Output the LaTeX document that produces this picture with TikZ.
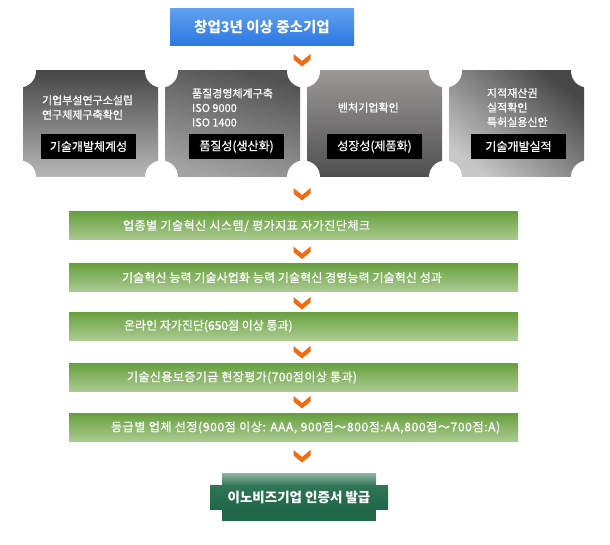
\documentclass[tikz,border=0pt]{standalone}
\usepackage{fontspec}
\setmainfont{Noto Sans CJK KR}
\newfontfamily\krsemi[FakeBold=0.7]{Noto Sans CJK KR}
\usetikzlibrary{calc}
\definecolor{barTop}{HTML}{68A040}
\definecolor{barMid}{HTML}{70A547}
\definecolor{barBot}{HTML}{ACCB92}
\definecolor{blueTop}{HTML}{62A0EE}
\definecolor{blueBot}{HTML}{2A76E2}
\definecolor{chevOrange}{HTML}{F36B0F}
\definecolor{finTopA}{HTML}{8FB4A3}
\definecolor{finTopB}{HTML}{3A7A5E}
\definecolor{finMidA}{HTML}{2F7556}
\definecolor{finMidB}{HTML}{206849}
\newcommand{\lsp}[2]{{\addfontfeature{LetterSpace=#1}#2}}
\begin{document}
\begin{tikzpicture}[x=1pt,y=-1pt,
  every node/.style={inner sep=0pt, outer sep=0pt},
  greybox/.style={minimum width=135pt, minimum height=106pt, anchor=north west},
  tagbox/.style={fill=black, text=white, minimum width=95pt, minimum height=25pt, anchor=north west, font=\krsemi\fontsize{12}{13}\selectfont},
  boxtext/.style={text=white, align=left, anchor=west, font=\krsemi\fontsize{11}{14.5}\selectfont},
  greenbar/.style={minimum width=449pt, minimum height=28pt, anchor=north west, top color=barTop, middle color=barMid, bottom color=barBot},
  bartext/.style={text=white, anchor=west, font=\krsemi\fontsize{12}{13}\selectfont},
  notchdisc/.style={fill=white},
  pics/chevron/.style={code={\fill[chevOrange] (-8.5,-6) -- (0,1) -- (8.5,-6) -- (8.5,-0.5) -- (0,6.5) -- (-8.5,-0.5) -- cycle;}}
]
\fill[white] (0,0) rectangle (610,545);
\useasboundingbox (0,0) rectangle (610,545);

% top box
\node[anchor=north west, minimum width=184pt, minimum height=37pt, top color=blueTop, bottom color=blueBot, text=white, font=\fontsize{14.5}{16}\selectfont\bfseries] (start) at (170,9) {창업3년 이상 중소기업};

% grey boxes
\node[greybox, top color=black!72, middle color=black!66, bottom color=black!28] (g1) at (23,71) {};
\node[greybox, top color=black!68, middle color=black!65, bottom color=black!36, shading angle=-15] (g2) at (165,71) {};
\node[greybox, top color={rgb,255:red,155;green,151;blue,151}, middle color=black!66, bottom color=black!69] (g3) at (307,71) {};
\node[greybox, top color=black!72, middle color=black!62, bottom color=black!22, shading angle=-40] (g4) at (449,71) {};

% notches
\foreach \nx in {19.5,161.5,303.5,445.5,587.5}{
  \fill[notchdisc] (\nx,71) circle (16.5);
  \fill[notchdisc] (\nx,177) circle (16.5);
}

% texts in grey boxes
\node[boxtext] (t1) at (42,107.5) {기업부설연구소설립\\연구체제구축확인};
\node[boxtext] (t2) at (192,107.5) {품질경영체계구축\\ISO 9000\\ISO 1400};
\node[boxtext] (t3) at (338,107.5) {벤처기업확인};
\node[boxtext] (t4) at (487,107.5) {지적재산권\\실적확인\\특허실용신안};

% black tags
\node[tagbox] (k1) at (41,134) {기술개발체계성};
\node[tagbox] (k2) at (189,134) {품질성(생산화)};
\node[tagbox] (k3) at (327,134) {성장성(제품화)};
\node[tagbox] (k4) at (471,134) {기술개발실적};

% green bars
\node[greenbar] (s1) at (69,212) {};
\node[greenbar] (s2) at (69,263.5) {};
\node[greenbar] (s3) at (69,312) {};
\node[greenbar] (s4) at (69,363.5) {};
\node[greenbar] (s5) at (69,413.5) {};
\node[bartext] (s1t) at (123,226) {\lsp{4.5}{업종별 기술혁신 시스템/ 평가지표 자가진단체크}};
\node[bartext] (s2t) at (122,277.5) {\lsp{1}{기술혁신 능력 기술사업화 능력 기술혁신 경영능력 기술혁신 성과}};
\node[bartext] (s3t) at (124,326) {온라인 자가진단(650점 이상 통과)};
\node[bartext] (s4t) at (127,377.5) {\lsp{3.5}{기술신용보증기금 현장평가(700점이상 통과)}};
\node[bartext] (s5t) at (111,427.5) {\lsp{5.4}{등급별 업체 선정(900점 이상: AAA, 900점～800점:AA,800점～700점:A)}};

% final box
\node[anchor=north west, minimum width=154pt, minimum height=12pt, top color=finTopA, bottom color=finTopB] (fa) at (222,473) {};
\node[anchor=north west, minimum width=154pt, minimum height=12pt, fill=finMidB] (fc) at (222,509) {};
\node[anchor=north west, minimum width=178pt, minimum height=24pt, top color=finMidA, bottom color=finMidB] (fb) at (210,485) {};
\node[text=white, font=\fontsize{13.5}{15}\selectfont\bfseries] (ft) at (fb.center) {이노비즈기업 인증서 발급};

% chevrons
\pic at (302,60) {chevron};
\pic at (302,194) {chevron};
\pic at (302,252.5) {chevron};
\pic at (302,303) {chevron};
\pic at (302,352) {chevron};
\pic at (302,402) {chevron};
\pic at (302,456) {chevron};
\end{tikzpicture}
\end{document}
